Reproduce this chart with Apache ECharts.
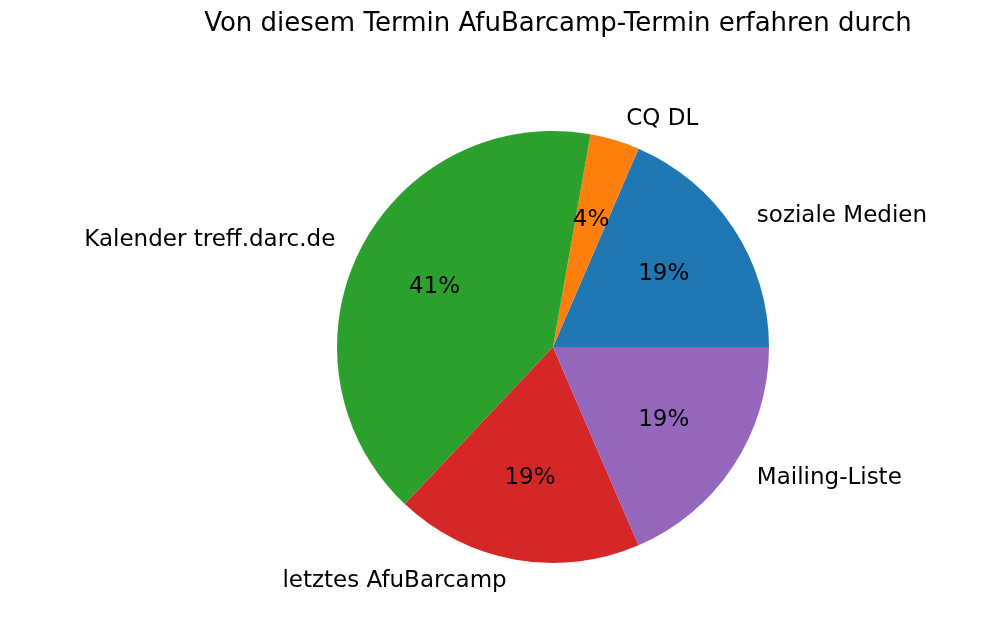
<!DOCTYPE html>
<html>
<head>
<meta charset="utf-8">
<script src="https://cdn.jsdelivr.net/npm/echarts@6/dist/echarts.min.js"></script>
<style>html,body{margin:0;padding:0;background:#fff}#main{width:998px;height:627px}</style>
</head>
<body>
<div id="main"></div>
<script>
var labels = ['soziale Medien', 'CQ DL', 'Kalender treff.darc.de', 'letztes AfuBarcamp', 'Mailing-Liste'];
var values = [5, 1, 11, 5, 5];
var colors = ['#1f77b4', '#ff7f0e', '#2ca02c', '#d62728', '#9467bd'];

var myChart = echarts.init(document.getElementById('main'));
var font = 'DejaVu Sans';
var r = 216;

var data = labels.map(function (l, i) {
    return {name: l, value: values[i], itemStyle: {color: colors[i]}};
});

option = {
    animation: false,
    title: {
        text: 'Von diesem Termin AfuBarcamp-Termin erfahren durch',
        left: 553, top: 6, textAlign: 'center',
        textStyle: {fontFamily: font, fontSize: 26, fontWeight: 'normal', color: '#000'}
    },
    series: [
        {   // slices + outer names
            type: 'pie',
            center: [553, 347],
            radius: [0, r],
            startAngle: 0,
            clockwise: false,
            avoidLabelOverlap: false,
            itemStyle: {borderWidth: 0},
            label: {
                show: true, position: 'outside',
                fontFamily: font, fontSize: 23, color: '#000',
                formatter: '{b}'
            },
            labelLine: {show: false, length: 22, length2: 0},
            emphasis: {disabled: true},
            data: data
        },
        {   // percentages at 0.6 r (transparent ring, inside labels land at half radius)
            type: 'pie',
            center: [553, 347],
            radius: [0, r * 1.2],
            startAngle: 0,
            clockwise: false,
            silent: true,
            itemStyle: {color: 'rgba(0,0,0,0)'},
            label: {
                show: true, position: 'inside',
                fontFamily: font, fontSize: 23, color: '#000',
                formatter: function (p) { return Math.round(p.percent) + '%'; }
            },
            data: labels.map(function (l, i) { return {name: l, value: values[i]}; })
        }
    ]
};

myChart.setOption(option);
</script>
</body>
</html>
